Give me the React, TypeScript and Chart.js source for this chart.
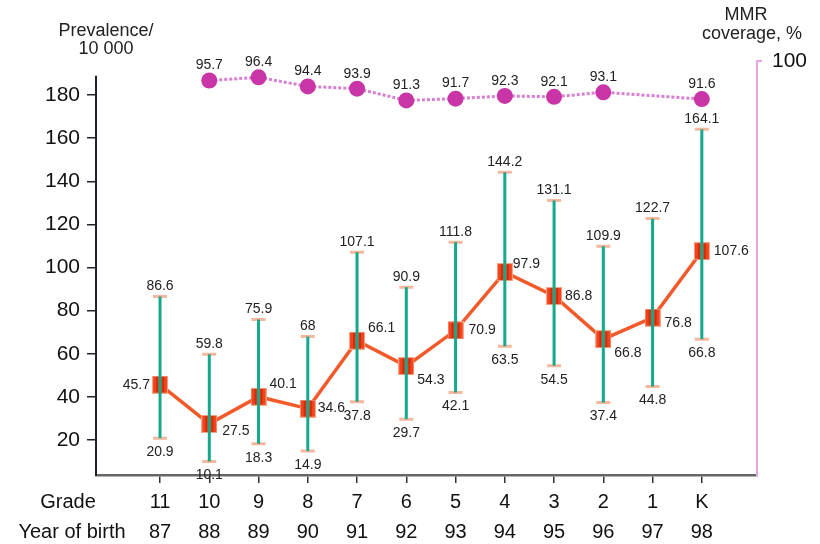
import React, { useEffect, useRef } from "react";
import { Chart, registerables } from "chart.js";

Chart.register(...registerables);

const grades = ["11", "10", "9", "8", "7", "6", "5", "4", "3", "2", "1", "K"];
const birthYears = ["87", "88", "89", "90", "91", "92", "93", "94", "95", "96", "97", "98"];
const prevalence = [45.7, 27.5, 40.1, 34.6, 66.1, 54.3, 70.9, 97.9, 86.8, 66.8, 76.8, 107.6];
const lowerCI = [20.9, 10.1, 18.3, 14.9, 37.8, 29.7, 42.1, 63.5, 54.5, 37.4, 44.8, 66.8];
const upperCI = [86.6, 59.8, 75.9, 68, 107.1, 90.9, 111.8, 144.2, 131.1, 109.9, 122.7, 164.1];
const mmrCoverage: (number | null)[] = [null, 95.7, 96.4, 94.4, 93.9, 91.3, 91.7, 92.3, 92.1, 93.1, null, 91.6];
const leftTicks = [20, 40, 60, 80, 100, 120, 140, 160, 180];
const rightTicks = [100];

// label placement (style)
const meanLabelDx = [-10, 13, 11, 10, 11, 11, 13, 8, 11, 11, 12, 12];
const meanLabelDy = [0, 7, -13, 0, -13, 14, 0, -8, 0, 14, 6, 0];

const FONT = "'Liberation Sans', Arial, Helvetica, sans-serif";

function makeMarker(): HTMLCanvasElement {
  const c = document.createElement("canvas");
  c.width = 16;
  c.height = 18;
  const g = c.getContext("2d")!;
  g.fillStyle = "#f8a488";
  g.fillRect(0, 0, 16, 18);
  g.fillStyle = "#f1441c";
  g.fillRect(1, 1, 14, 16);
  g.fillStyle = "#d42c0a";
  g.fillRect(4, 1, 2, 16);
  g.fillRect(10, 1, 2, 16);
  return c;
}

export default function App() {
  const ref = useRef<HTMLCanvasElement>(null);

  useEffect(() => {
    document.body.style.margin = "0";
    const canvas = ref.current!;
    const marker = makeMarker();

    const overlay = {
      id: "overlay",
      afterDatasetsDraw(chart: any) {
        const ctx = chart.ctx;
        const xs = chart.scales.x;
        const ys = chart.scales.y;
        const y2 = chart.scales.y2;
        const area = chart.chartArea;
        ctx.save();
        // left axis line
        ctx.strokeStyle = "#1c2430";
        ctx.lineWidth = 2;
        ctx.beginPath();
        ctx.moveTo(area.left, ys.getPixelForValue(189));
        ctx.lineTo(area.left, area.bottom + 1);
        ctx.stroke();

        // error bars
        for (let i = 0; i < grades.length; i++) {
          const x = xs.getPixelForValue(i);
          const yl = ys.getPixelForValue(lowerCI[i]);
          const yh = ys.getPixelForValue(upperCI[i]);
          ctx.strokeStyle = "#f7b79c";
          ctx.lineWidth = 3;
          ctx.beginPath();
          ctx.moveTo(x - 7, yl);
          ctx.lineTo(x + 7, yl);
          ctx.moveTo(x - 7, yh);
          ctx.lineTo(x + 7, yh);
          ctx.stroke();
          ctx.strokeStyle = "#14a88c";
          ctx.lineWidth = 3;
          ctx.beginPath();
          ctx.moveTo(x, yl);
          ctx.lineTo(x, yh);
          ctx.stroke();
        }

        // labels
        ctx.fillStyle = "#222";
        ctx.font = `14px ${FONT}`;
        ctx.textBaseline = "middle";
        for (let i = 0; i < grades.length; i++) {
          const x = xs.getPixelForValue(i);
          ctx.textAlign = "center";
          ctx.fillText(String(upperCI[i]), x, ys.getPixelForValue(upperCI[i]) - 10);
          ctx.fillText(String(lowerCI[i]), x, ys.getPixelForValue(lowerCI[i]) + 14);
          const dx = meanLabelDx[i];
          ctx.textAlign = dx < 0 ? "right" : "left";
          ctx.fillText(String(prevalence[i]), x + dx, ys.getPixelForValue(prevalence[i]) + meanLabelDy[i]);
          const c = mmrCoverage[i];
          if (c !== null) {
            ctx.textAlign = "center";
            ctx.fillText(String(c), x, y2.getPixelForValue(c) - 15);
          }
        }

        // titles
        ctx.fillStyle = "#222";
        ctx.font = `18px ${FONT}`;
        ctx.textAlign = "center";
        ctx.fillText("Prevalence/", 106, 31);
        ctx.fillText("10 000", 106, 49);
        ctx.fillText("MMR", 746, 15);
        ctx.fillText("coverage, %", 752, 34);

        // row headers
        ctx.fillStyle = "#111";
        ctx.font = `20px ${FONT}`;
        const tickY = area.bottom + 8 + 4;
        ctx.fillText("Grade", 68, tickY + 15);
        ctx.fillText("Year of birth", 72, tickY + 45);
        ctx.restore();
      },
    };

    const chart = new Chart(canvas, {
      type: "line",
      data: {
        datasets: [
          {
            label: "Prevalence",
            data: prevalence.map((v, i) => ({ x: i, y: v })),
            borderColor: "#f25a2a",
            borderWidth: 3.5,
            pointStyle: marker as any,
            pointRadius: 8,
            yAxisID: "y",
          },
          {
            label: "MMR coverage",
            data: mmrCoverage.map((v, i) => ({ x: i, y: v as any })),
            spanGaps: true,
            borderColor: "#d77fd0",
            borderWidth: 3,
            borderDash: [3, 2],
            pointRadius: 8,
            pointBackgroundColor: "#c934a6",
            pointBorderWidth: 0,
            yAxisID: "y2",
          },
        ],
      },
      options: {
        animation: false,
        responsive: false,
        layout: { padding: { top: 61, left: 0, right: 0, bottom: 0 } },
        plugins: { legend: { display: false }, tooltip: { enabled: false } },
        scales: {
          x: {
            type: "linear",
            min: -1.3,
            max: 12.12,
            afterBuildTicks: (s: any) => {
              s.ticks = grades.map((_, i) => ({ value: i }));
            },
            afterFit: (s: any) => {
              s.height = 69;
            },
            grid: { drawOnChartArea: false, tickLength: 8, color: "#333", lineWidth: 1.5 },
            border: { color: "#666", width: 2.5 },
            ticks: {
              autoSkip: false,
              maxRotation: 0,
              padding: 4,
              color: "#111",
              font: { family: FONT, size: 20, lineHeight: 1.5 },
              callback: (v: any) => [grades[Number(v)], birthYears[Number(v)]],
            },
          },
          y: {
            type: "linear",
            position: "left",
            min: 3.8,
            max: 195.8,
            afterBuildTicks: (s: any) => {
              s.ticks = leftTicks.map((v) => ({ value: v }));
            },
            afterFit: (s: any) => {
              s.width = 96;
            },
            grid: { drawOnChartArea: false, tickLength: 9, color: "#222", lineWidth: 1.5 },
            border: { display: false },
            ticks: { padding: 7, color: "#111", font: { family: FONT, size: 21 } },
          },
          y2: {
            type: "linear",
            position: "right",
            min: 8.7,
            max: 100,
            afterBuildTicks: (s: any) => {
              s.ticks = rightTicks.map((v) => ({ value: v }));
            },
            afterFit: (s: any) => {
              s.width = 63;
            },
            grid: { drawOnChartArea: false, tickLength: 5, color: "#e2a6e2", lineWidth: 2 },
            border: { color: "#e2a6e2", width: 2 },
            ticks: { padding: 10, color: "#111", font: { family: FONT, size: 21 } },
          },
        },
      },
      plugins: [overlay],
    });
    return () => chart.destroy();
  }, []);

  return <canvas ref={ref} width={820} height={544} />;
}
